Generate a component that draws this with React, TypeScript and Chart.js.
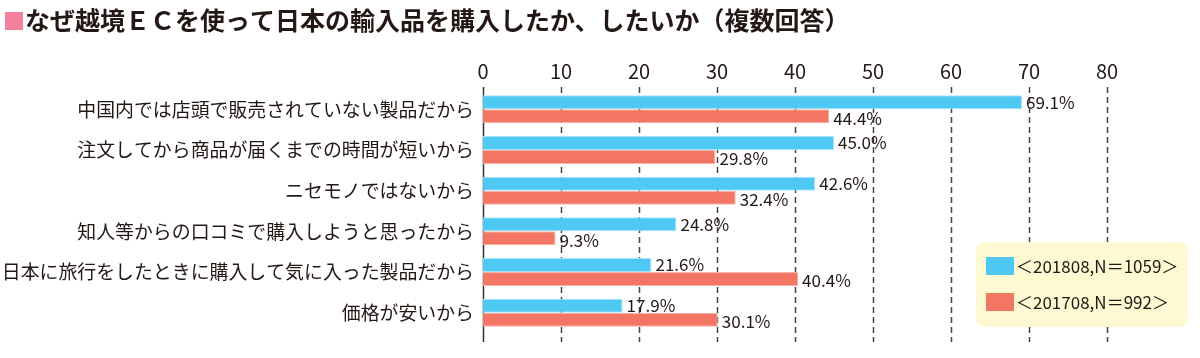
import React, { useEffect, useRef } from "react";
import { Chart, registerables } from "chart.js";

Chart.register(...registerables);

const TITLE = "なぜ越境ＥＣを使って日本の輸入品を購入したか、したいか（複数回答）";
const CATEGORIES = [
  "中国内では店頭で販売されていない製品だから",
  "注文してから商品が届くまでの時間が短いから",
  "ニセモノではないから",
  "知人等からの口コミで購入しようと思ったから",
  "日本に旅行をしたときに購入して気に入った製品だから",
  "価格が安いから",
];
const SERIES_NAMES = ["＜201808,N＝1059＞", "＜201708,N＝992＞"];
const VALUES_2018 = [69.1, 45.0, 42.6, 24.8, 21.6, 17.9];
const VALUES_2017 = [44.4, 29.8, 32.4, 9.3, 40.4, 30.1];
const X_TICKS = [0, 10, 20, 30, 40, 50, 60, 70, 80];

const BLUE = "#4DC9F4";
const RED = "#F37564";
const FONT = "'Noto Sans CJK JP', 'Noto Sans', sans-serif";
const TEXT = "#231815";

const drawPlugin = {
  id: "customDraw",
  beforeDatasetsDraw(chart: any) {
    const ctx = chart.ctx;
    const xs = chart.scales.x;
    const area = chart.chartArea;
    ctx.save();
    X_TICKS.forEach((v) => {
      const x = Math.round(xs.getPixelForValue(v)) + 0.5;
      ctx.beginPath();
      if (v === 0) {
        ctx.setLineDash([]);
        ctx.strokeStyle = "#333";
        ctx.lineWidth = 1.5;
      } else {
        ctx.setLineDash([6, 4]);
        ctx.strokeStyle = "#444";
        ctx.lineWidth = 1.5;
      }
      ctx.moveTo(x, area.top - 2);
      ctx.lineTo(x, area.bottom + 9);
      ctx.stroke();
    });
    ctx.restore();
  },
  afterDatasetsDraw(chart: any) {
    const ctx = chart.ctx;
    ctx.save();
    ctx.font = `17px ${FONT}`;
    ctx.fillStyle = TEXT;
    ctx.textAlign = "left";
    ctx.textBaseline = "middle";
    chart.data.datasets.forEach((ds: any, di: number) => {
      const meta = chart.getDatasetMeta(di);
      meta.data.forEach((bar: any, i: number) => {
        const v = ds.data[i];
        ctx.fillText(v.toFixed(1) + "%", bar.x + 4, bar.y + (di === 0 ? 0 : 2));
      });
    });
    ctx.restore();
  },
  afterDraw(chart: any) {
    const ctx = chart.ctx;
    ctx.save();
    // title
    ctx.fillStyle = "#F3819E";
    ctx.fillRect(5, 12, 18, 18);
    ctx.font = `bold 25px ${FONT}`;
    ctx.fillStyle = TEXT;
    ctx.textAlign = "left";
    ctx.textBaseline = "middle";
    ctx.fillText(TITLE, 25, 20);

    // legend
    const bx = 976, by = 242, bw = 212, bh = 85, r = 9;
    ctx.beginPath();
    ctx.moveTo(bx + r, by);
    ctx.arcTo(bx + bw, by, bx + bw, by + bh, r);
    ctx.arcTo(bx + bw, by + bh, bx, by + bh, r);
    ctx.arcTo(bx, by + bh, bx, by, r);
    ctx.arcTo(bx, by, bx + bw, by, r);
    ctx.closePath();
    ctx.fillStyle = "#FEF8D3";
    ctx.fill();
    const colors = [BLUE, RED];
    const ys = [266, 302];
    ctx.font = `17px ${FONT}`;
    SERIES_NAMES.forEach((name, i) => {
      ctx.fillStyle = colors[i];
      ctx.fillRect(986, ys[i] - 9, 28, 18);
      ctx.fillStyle = TEXT;
      ctx.fillText(name, 1016, ys[i] + 1);
    });
    ctx.restore();
  },
};

export default function App() {
  const ref = useRef<HTMLCanvasElement>(null);
  useEffect(() => {
    document.body.style.margin = "0";
    const chart = new Chart(ref.current as HTMLCanvasElement, {
      type: "bar",
      data: {
        labels: CATEGORIES,
        datasets: [
          {
            label: SERIES_NAMES[0],
            data: VALUES_2018,
            backgroundColor: BLUE,
            borderColor: "#A8E6FB",
            borderWidth: 1,
            categoryPercentage: 0.69,
            barPercentage: 1,
          },
          {
            label: SERIES_NAMES[1],
            data: VALUES_2017,
            backgroundColor: RED,
            borderColor: "#FAB3A9",
            borderWidth: 1,
            categoryPercentage: 0.69,
            barPercentage: 1,
          },
        ],
      },
      options: {
        indexAxis: "y",
        responsive: false,
        animation: false,
        layout: { padding: { top: 0, left: 0, right: 93, bottom: 25 } },
        plugins: {
          legend: { display: false },
          tooltip: { enabled: false },
          title: { display: false },
        },
        scales: {
          x: {
            position: "top",
            min: 0,
            max: 80,
            afterFit: (s: any) => {
              s.height = 89;
            },
            ticks: {
              stepSize: 10,
              padding: 6,
              color: TEXT,
              font: { family: FONT, size: 20 },
            },
            grid: { display: false, drawTicks: false },
            border: { display: false },
          },
          y: {
            afterFit: (s: any) => {
              s.width = 483;
            },
            ticks: {
              padding: 9,
              color: TEXT,
              font: { family: FONT, size: 18.9 },
            },
            grid: { display: false, drawTicks: false },
            border: { display: false },
          },
        },
      },
      plugins: [drawPlugin],
    } as any);
    return () => chart.destroy();
  }, []);
  return (
    <div style={{ width: 1200, height: 358, background: "#fff" }}>
      <canvas ref={ref} width={1200} height={358} style={{ width: 1200, height: 358, display: "block" }} />
    </div>
  );
}
